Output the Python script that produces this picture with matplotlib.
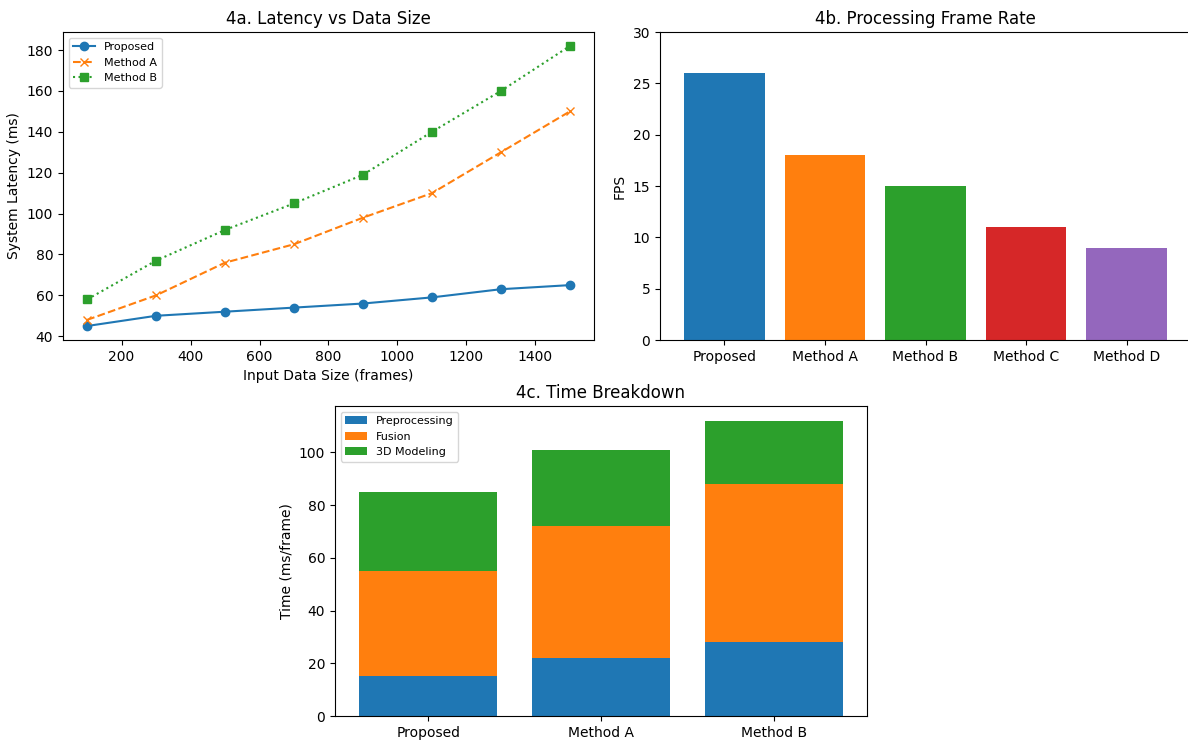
import numpy as np
import matplotlib
matplotlib.use("Agg")
import matplotlib.pyplot as plt

# latency vs input size
data_size = [100, 300, 500, 700, 900, 1100, 1300, 1500]
lat_proposed = [45, 50, 52, 54, 56, 59, 63, 65]
lat_method_a = [48, 60, 76, 85, 98, 110, 130, 150]
lat_method_b = [58, 77, 92, 105, 119, 140, 160, 182]

# frame rate
methods = ["Proposed", "Method A", "Method B", "Method C", "Method D"]
fps = [26, 18, 15, 11, 9]

# per-frame time breakdown
bd_methods = ["Proposed", "Method A", "Method B"]
preprocessing = [15, 22, 28]
fusion = [40, 50, 60]
modeling = [30, 29, 24]

W, H = 1188, 740
fig = plt.figure(figsize=(W / 100, H / 100), dpi=100)

def box(l, t, r, b):
    return [l / W, (H - b) / H, (r - l) / W, (b - t) / H]

# 4a
ax = fig.add_axes(box(63, 32, 594, 340))
ax.plot(data_size, lat_proposed, marker='o', ls='-', label='Proposed')
ax.plot(data_size, lat_method_a, marker='x', ls='--', label='Method A')
ax.plot(data_size, lat_method_b, marker='s', ls=':', label='Method B')
ax.set_title('4a. Latency vs Data Size')
ax.set_xlabel('Input Data Size (frames)')
ax.set_ylabel('System Latency (ms)')
ax.legend(fontsize=8, loc='upper left')

# 4b
ax = fig.add_axes(box(660, 32, 1191, 340))
colors = ['tab:blue', 'tab:orange', 'tab:green', 'tab:red', 'tab:purple']
ax.bar(methods, fps, color=colors)
ax.set_ylim(0, 30)
ax.set_title('4b. Processing Frame Rate')
ax.set_ylabel('FPS')

# 4c
ax = fig.add_axes(box(335, 406, 867, 716))
pre = np.array(preprocessing)
fus = np.array(fusion)
ax.bar(bd_methods, pre, label='Preprocessing')
ax.bar(bd_methods, fus, bottom=pre, label='Fusion')
ax.bar(bd_methods, modeling, bottom=pre + fus, label='3D Modeling')
ax.set_title('4c. Time Breakdown')
ax.set_ylabel('Time (ms/frame)')
ax.legend(fontsize=8, loc='upper left')

fig.savefig('out.png', dpi=100)
